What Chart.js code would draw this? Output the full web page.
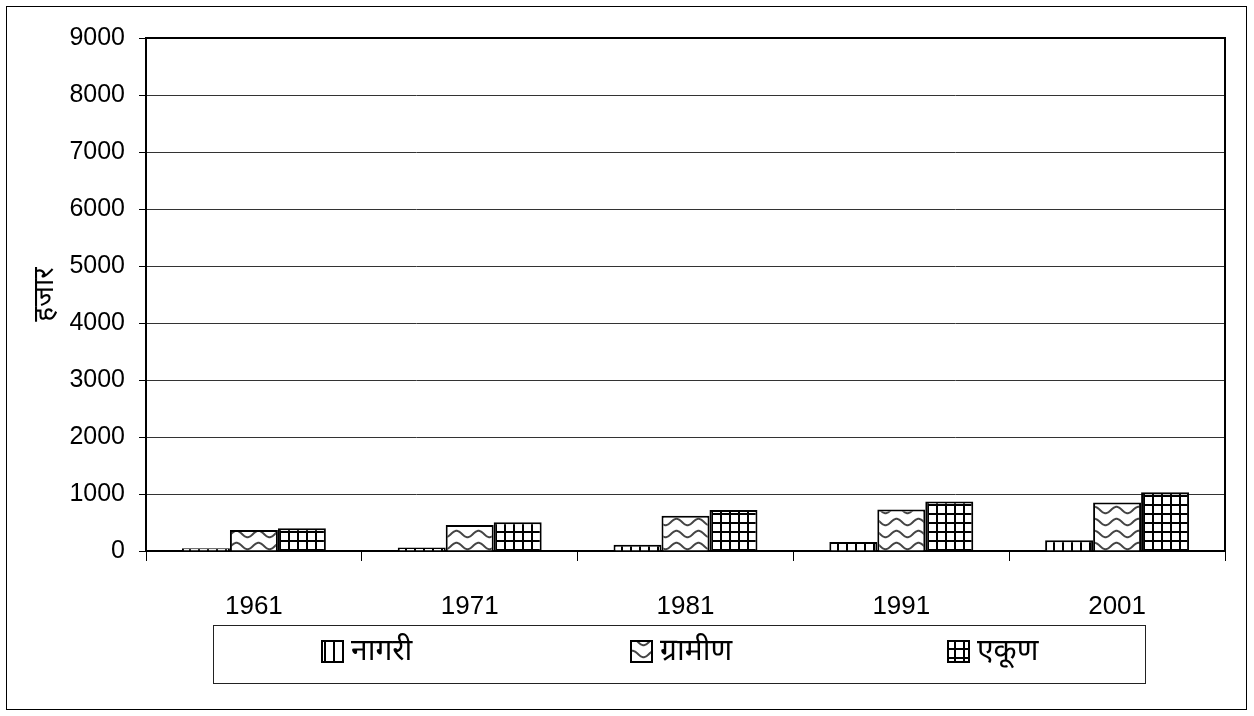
<!DOCTYPE html>
<html>
<head>
<meta charset="utf-8">
<script src="https://cdn.jsdelivr.net/npm/chart.js@4/dist/chart.umd.min.js"></script>
<style>
html,body{margin:0;padding:0;background:#fff;}
canvas{display:block;}
</style>
</head>
<body>
<canvas id="c" width="1254" height="716"></canvas>
<script>
const categories = ['1961', '1971', '1981', '1991', '2001'];
const nagari = [50, 60, 110, 160, 190];
const gramin = [370, 455, 620, 730, 850];
const ekun = [400, 505, 720, 870, 1030];
const seriesLabels = ['नागरी', 'ग्रामीण', 'एकूण'];
const yTicks = [0, 1000, 2000, 3000, 4000, 5000, 6000, 7000, 8000, 9000];
const yTitle = 'हजार';

const DEVA = '"Noto Sans", "Noto Sans Devanagari", "Lohit Devanagari", "FreeSans", "Liberation Sans", sans-serif';
const NUM = '"Liberation Sans", Arial, sans-serif';

function makePattern(type) {
  const c = document.createElement('canvas');
  const g = c.getContext('2d');
  if (type === 'vlines') {
    c.width = 9; c.height = 9;
    g.fillStyle = '#fff'; g.fillRect(0, 0, 9, 9);
    g.fillStyle = '#000'; g.fillRect(0, 0, 2, 9);
  } else if (type === 'grid') {
    c.width = 9; c.height = 9;
    g.fillStyle = '#fff'; g.fillRect(0, 0, 9, 9);
    g.fillStyle = '#000'; g.fillRect(0, 0, 2, 9); g.fillRect(0, 0, 9, 2);
  } else {
    c.width = 22; c.height = 12;
    g.fillStyle = '#fff'; g.fillRect(0, 0, 22, 12);
    g.strokeStyle = '#444'; g.lineWidth = 2;
    g.beginPath();
    for (let x = -1; x <= 23; x += 0.5) {
      const y = 6 + 3.2 * Math.sin(2 * Math.PI * x / 22);
      if (x === -1) g.moveTo(x, y); else g.lineTo(x, y);
    }
    g.stroke();
  }
  return g.createPattern(c, 'repeat');
}

const ctx = document.getElementById('c').getContext('2d');
const patterns = [makePattern('vlines'), makePattern('wave'), makePattern('grid')];

const frame = {
  id: 'frame',
  beforeDraw(chart) {
    const g = chart.ctx;
    g.save();
    g.fillStyle = '#fff';
    g.fillRect(0, 0, chart.width, chart.height);
    g.strokeStyle = '#000';
    g.lineWidth = 1;
    g.strokeRect(6.5, 6.5, 1240, 703);
    g.restore();
  },
  afterDraw(chart) {
    const g = chart.ctx;
    const a = chart.chartArea;
    g.save();
    g.strokeStyle = '#000';
    g.lineWidth = 2;
    g.beginPath();
    g.moveTo(a.left, a.top); g.lineTo(a.right, a.top); g.lineTo(a.right, a.bottom);
    g.stroke();
    // legend box
    g.lineWidth = 1;
    g.strokeStyle = '#222';
    g.strokeRect(213.5, 625.5, 932, 58);
    const xs = [322, 631, 948];
    g.font = '30px ' + DEVA;
    g.textBaseline = 'middle';
    g.textAlign = 'left';
    chart.data.datasets.forEach((ds, i) => {
      g.fillStyle = ds.backgroundColor;
      g.fillRect(xs[i], 641, 21, 21);
      g.strokeStyle = '#000';
      g.lineWidth = 2;
      g.strokeRect(xs[i], 641, 21, 21);
      g.fillStyle = '#000';
      g.fillText(ds.label, xs[i] + 29, 651);
    });
    g.restore();
  }
};

new Chart(ctx, {
  type: 'bar',
  data: {
    labels: categories,
    datasets: [
      { label: seriesLabels[0], data: nagari, backgroundColor: patterns[0], borderColor: '#000', borderWidth: 2 },
      { label: seriesLabels[1], data: gramin, backgroundColor: patterns[1], borderColor: '#000', borderWidth: 2 },
      { label: seriesLabels[2], data: ekun, backgroundColor: patterns[2], borderColor: '#000', borderWidth: 2 }
    ]
  },
  options: {
    responsive: false,
    devicePixelRatio: 1,
    animation: false,
    categoryPercentage: 0.667,
    barPercentage: 1.0,
    layout: { padding: { left: 0, top: 38, right: 29, bottom: 0 } },
    plugins: { legend: { display: false }, tooltip: { enabled: false } },
    scales: {
      x: {
        offset: true,
        grid: { drawOnChartArea: false, drawTicks: true, tickLength: 10, color: '#000', offset: true },
        border: { color: '#000', width: 2 },
        ticks: { color: '#000', font: { family: NUM, size: 26 }, padding: 30 },
        afterFit(s) { s.height = 165; }
      },
      y: {
        min: 0, max: 9000,
        afterBuildTicks(s) { s.ticks = yTicks.map(v => ({ value: v })); },
        grid: { color: '#333', lineWidth: 1, tickLength: 7, tickColor: '#000' },
        border: { color: '#000', width: 2 },
        ticks: { color: '#000', font: { family: NUM, size: 25 }, padding: 14, callback: v => String(v) },
        title: { display: true, text: yTitle, color: '#000', font: { family: DEVA, size: 28 }, padding: { top: 28, bottom: 0 } },
        afterFit(s) { s.width = 146; }
      }
    }
  },
  plugins: [frame]
});
</script>
</body>
</html>
